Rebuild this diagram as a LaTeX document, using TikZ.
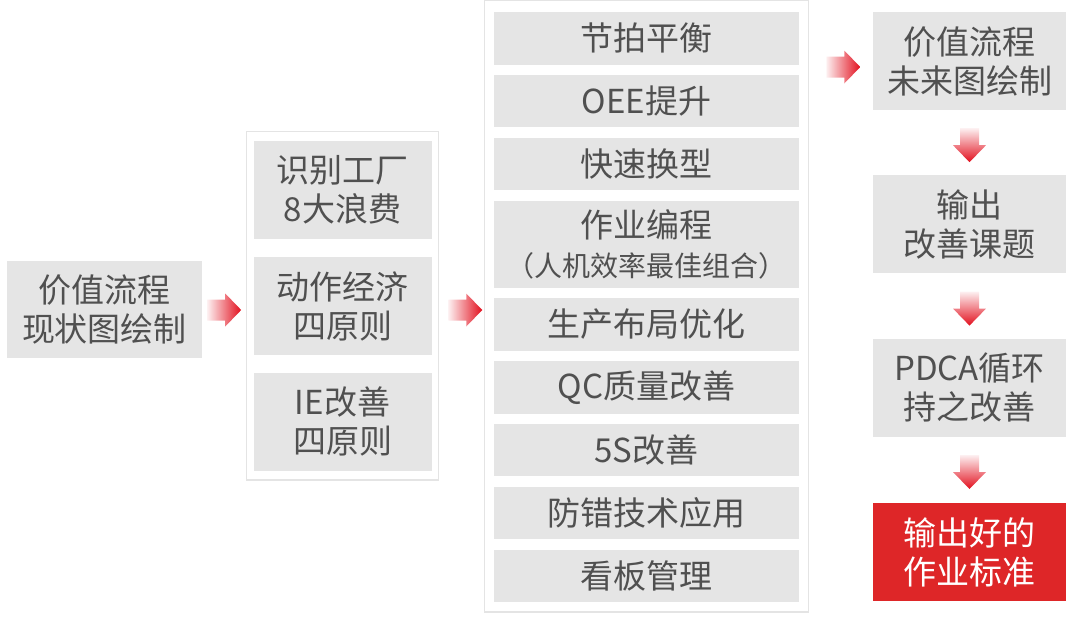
\documentclass[tikz,border=0pt]{standalone}
\usepackage{fontspec}
\setmainfont{Noto Sans CJK SC}
\usepackage{tikz}
\usetikzlibrary{positioning}
\definecolor{boxgray}{HTML}{E5E5E5}
\definecolor{framegray}{HTML}{E4E4E4}
\definecolor{txtgray}{HTML}{505050}
\definecolor{boxred}{HTML}{DE2628}
\definecolor{arrowred}{HTML}{E2101E}
\definecolor{arrowlight}{HTML}{FDF0F1}
\tikzset{
  box/.style={fill=boxgray, text=txtgray, align=center, inner sep=0pt,
    font=\fontsize{33}{39}\selectfont},
  sidebox/.style={box, minimum width=178pt, minimum height=98pt},
  midbox/.style={box, minimum width=305pt, minimum height=52.5pt},
  endbox/.style={box, minimum width=193pt, minimum height=98pt},
  frame/.style={draw=framegray, line width=1.5pt, fill=white},
  pics/rarrow/.style={code={
    \path[left color=arrowlight, right color=arrowred]
      (0,-10.5) -- (18,-10.5) -- (18,-16.5) -- (34,0) -- (18,16.5) -- (18,10.5) -- (0,10.5) -- cycle;}},
  pics/darrow/.style={code={
    \path[top color=arrowlight, bottom color=arrowred]
      (-9.5,0) -- (-9.5,17) -- (-16.5,17) -- (0,34) -- (16.5,17) -- (9.5,17) -- (9.5,0) -- cycle;}},
}
\begin{document}
\begin{tikzpicture}[x=1pt,y=-1pt]
\useasboundingbox (0,0) rectangle (1077,624);
\node[box, minimum width=195pt, minimum height=97pt] (now) at (104.5,309.5) {价值流程\\现状图绘制};

\node[frame, minimum width=192pt, minimum height=348.5pt] (fr1) at (342.5,305.75) {};
\node[sidebox] (waste) at (342.5,190) {识别工厂\\8大浪费};
\node[sidebox, below=18pt of waste] (motion) {动作经济\\四原则};
\node[sidebox, below=17pt of motion] (ie) {IE改善\\四原则};

\node[frame, minimum width=324pt, minimum height=611.5pt] (fr2) at (646.5,306.25) {};
\node[midbox] (m1) at (646.5,38.25) {节拍平衡};
\node[midbox, below=10pt of m1] (m2) {OEE提升};
\node[midbox, below=10pt of m2] (m3) {快速换型};
\node[midbox, minimum height=87pt, below=10pt of m3] (m4) {作业编程\\{\fontsize{28}{37}\selectfont（人机效率最佳组合）}};
\node[midbox, below=10pt of m4] (m5) {生产布局优化};
\node[midbox, below=10pt of m5] (m6) {QC质量改善};
\node[midbox, below=10pt of m6] (m7) {5S改善};
\node[midbox, below=10pt of m7] (m8) {防错技术应用};
\node[midbox, below=10pt of m8] (m9) {看板管理};

\node[endbox] (future) at (969.5,61) {价值流程\\未来图绘制};
\node[endbox, below=65pt of future] (topic) {输出\\改善课题};
\node[endbox, below=65pt of topic] (pdca) {PDCA循环\\持之改善};
\node[endbox, fill=boxred, text=white, below=66pt of pdca] (std) {输出好的\\作业标准};

\path (now.east) ++(5,0.5) pic {rarrow};
\path (fr1.east |- now.east) ++(9,0.5) pic {rarrow};
\path (fr2.east |- future.west) ++(17,6) pic {rarrow};
\path (future.south) ++(0,18) pic {darrow};
\path (topic.south) ++(0,18) pic {darrow};
\path (pdca.south) ++(0,18) pic {darrow};
\end{tikzpicture}
\end{document}
